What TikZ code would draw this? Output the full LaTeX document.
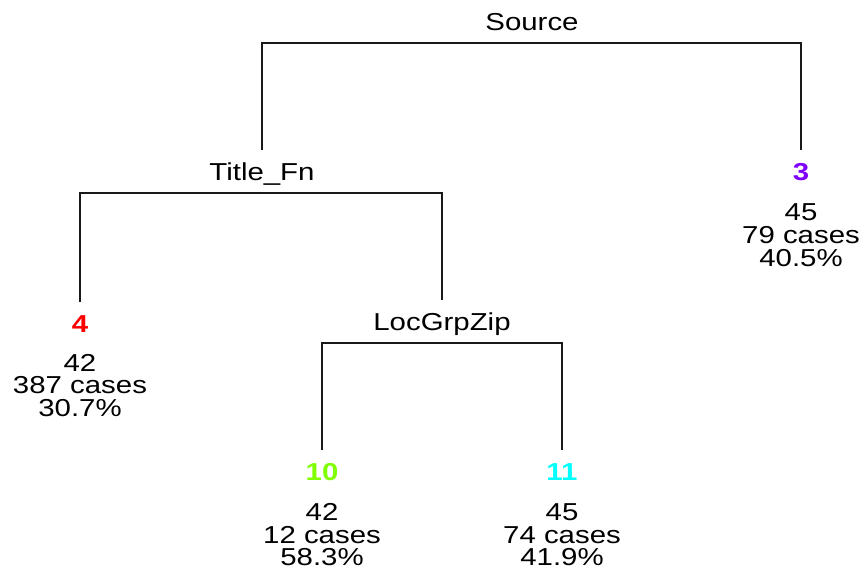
\documentclass[tikz,border=0pt]{standalone}
\usepackage{fontspec}
\setmainfont{Liberation Sans}
\definecolor{leafred}{RGB}{255,0,0}
\definecolor{leafpurple}{RGB}{128,0,255}
\definecolor{leafgreen}{RGB}{128,255,0}
\definecolor{leafcyan}{RGB}{0,255,255}
\begin{document}
\begin{tikzpicture}[x=1pt,y=-1pt,
  lbl/.style={font=\fontsize{24.5}{24.5}\selectfont, xscale=1.2, inner sep=0pt,
    outer xsep=0pt, outer ysep=13pt, text height=17.5pt, text depth=0pt, anchor=center},
  num/.style={lbl, font=\fontsize{24.5}{24.5}\selectfont\bfseries},
  info/.style={lbl, outer ysep=0pt},
  branch/.style={line width=2pt, draw=black!90}]
\useasboundingbox (0,0) rectangle (866,569);

% split labels
\node[lbl] (source) at (532,22) {Source};
\node[lbl] (title) at (262,172) {Title\_Fn};
\node[lbl] (loc) at (442,322) {LocGrpZip};

% leaf 3
\node[num, text=leafpurple] (n3) at (801,172) {3};
\node[info] (n3a) at (801,212) {45};
\node[info] (n3b) at (801,235) {79 cases};
\node[info] (n3c) at (801,258) {40.5\%};

% leaf 4
\node[num, text=leafred] (n4) at (80,324) {4};
\node[info] (n4a) at (80,363) {42};
\node[info] (n4b) at (80,385) {387 cases};
\node[info] (n4c) at (80,408) {30.7\%};

% leaf 10
\node[num, text=leafgreen] (n10) at (322,472) {10};
\node[info] (n10a) at (322,512) {42};
\node[info] (n10b) at (322,535) {12 cases};
\node[info] (n10c) at (322,557) {58.3\%};

% leaf 11
\node[num, text=leafcyan] (n11) at (562,472) {11};
\node[info] (n11a) at (562,512) {45};
\node[info] (n11b) at (562,535) {74 cases};
\node[info] (n11c) at (562,557) {41.9\%};

% horizontal bars of each split
\coordinate (sbar) at (532,43);
\coordinate (tbar) at (262,193);
\coordinate (lbar) at (442,343);

\draw[branch] (title.north) |- (sbar) -| (n3.north);
\draw[branch] (n4.north) |- (tbar) -| (loc.north);
\draw[branch] (n10.north) |- (lbar) -| (n11.north);
\end{tikzpicture}
\end{document}
